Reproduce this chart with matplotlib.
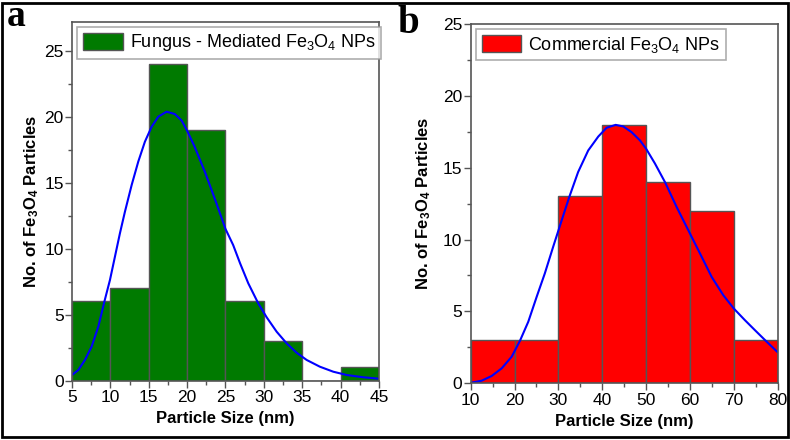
import numpy as np
import matplotlib
matplotlib.use("Agg")
import matplotlib.pyplot as plt
from matplotlib.patches import Rectangle

plt.rcParams['font.family'] = ['Liberation Sans', 'DejaVu Sans']
plt.rcParams['mathtext.fontset'] = 'custom'
plt.rcParams['mathtext.rm'] = 'Liberation Sans'
plt.rcParams['mathtext.it'] = 'Liberation Sans'
plt.rcParams['mathtext.bf'] = 'Liberation Sans:bold'

# panel a - fungus mediated
a_left = [5, 10, 15, 20, 25, 30, 35, 40]
a_counts = [6, 7, 24, 19, 6, 3, 0, 1]
a_width = 5
a_fit_x = [5, 5.83, 6.69, 7.56, 8.43, 9.21, 9.95, 10.6, 11.25, 11.9, 12.78,
           13.64, 14.5, 15.38, 16.25, 17.33, 18.4, 19.3, 20.07, 21.0, 22.33,
           23.6, 25.0, 26.0, 26.9, 27.97, 29.27, 30.37, 31.67, 32.97, 34.27,
           35.58, 37.3, 39.05, 40.8, 42.96, 45]
a_fit_y = [0.43, 0.81, 1.57, 2.58, 4.09, 5.96, 7.63, 9.4, 11.17, 12.8, 14.83,
           16.6, 18.1, 19.24, 20.0, 20.38, 20.2, 19.7, 18.86, 17.7, 15.8,
           13.8, 11.5, 10.28, 8.9, 7.38, 5.86, 4.8, 3.71, 2.83, 2.12,
           1.57, 1.06, 0.68, 0.43, 0.26, 0.15]

# panel b - commercial
b_left = [10, 20, 30, 40, 50, 60, 70]
b_counts = [3, 3, 13, 18, 14, 12, 3]
b_width = 10
b_fit_x = [10.07, 12.5, 14.8, 17.07, 19.35, 21.24, 23.13, 25.05, 26.9, 28.8,
           30.75, 32.48, 34.5, 36.8, 39.1, 41.0, 43.06, 44.8, 46.7, 48.6, 50.04,
           52.0, 54.3, 56.97, 60.0, 62.67, 64.95, 67.6, 70.0, 72.5, 74.8, 77.5,
           79.9]
b_fit_y = [0.04, 0.18, 0.51, 1.04, 1.85, 2.96, 4.28, 6.02, 7.64, 9.49,
           11.34, 12.96, 14.7, 16.2, 17.17, 17.78, 17.98, 17.87, 17.47, 16.9, 16.3,
           15.3, 14.0, 12.26, 10.42, 8.8, 7.4, 6.13, 5.2, 4.4, 3.7, 2.89,
           2.19]

ylab = r"No. of Fe$_\mathbf{3}$O$_\mathbf{4}$ Particles"
spine_col = '#555555'

fig = plt.figure(figsize=(7.9, 4.4), dpi=100)
ax1 = fig.add_axes([0.0911, 0.1348, 0.3886, 0.816])
ax2 = fig.add_axes([0.5958, 0.1289, 0.3886, 0.8166])


def style(ax, xlim, ylim, xticks, ypad):
    ax.set_xlim(*xlim)
    ax.set_ylim(*ylim)
    ax.set_xticks(xticks)
    ax.set_yticks([0, 5, 10, 15, 20, 25])
    step = xticks[1] - xticks[0]
    ax.set_xticks(np.arange(xticks[0], xticks[-1] + 0.1, step / 2), minor=True)
    ax.set_yticks(np.arange(0, 25.1, 2.5), minor=True)
    ax.tick_params(which='both', direction='out', color=spine_col, labelsize=12.5, pad=2)
    ax.tick_params(which='major', length=5, width=1)
    ax.tick_params(which='minor', length=3, width=1)
    ax.tick_params(axis='y', pad=1)
    for s in ax.spines.values():
        s.set_color(spine_col)
        s.set_linewidth(1.2)
    ax.set_xlabel("Particle Size (nm)", fontsize=12, fontweight='bold', labelpad=4)
    ax.set_ylabel(ylab, fontsize=12, fontweight='bold', labelpad=ypad)


ax1.bar(a_left, a_counts, width=a_width, align='edge', color='#007a00',
        edgecolor=spine_col, linewidth=1, label=r"Fungus - Mediated Fe$_3$O$_4$ NPs")
ax1.plot(a_fit_x, a_fit_y, color='#0000ff', lw=1.5)
style(ax1, (5, 45), (0, 27.2), [5, 10, 15, 20, 25, 30, 35, 40, 45], 2)

ax2.bar(b_left, b_counts, width=b_width, align='edge', color='#ff0000',
        edgecolor=spine_col, linewidth=1, label=r"Commercial Fe$_3$O$_4$ NPs")
ax2.plot(b_fit_x, b_fit_y, color='#0000ff', lw=1.5)
style(ax2, (10, 80), (0, 25), [10, 20, 30, 40, 50, 60, 70, 80], 7)

for ax in (ax1, ax2):
    leg = ax.legend(loc='upper left', fontsize=13, frameon=True, fancybox=False,
                    handlelength=2.2, handleheight=1.1, borderpad=0.3,
                    handletextpad=0.4, borderaxespad=0.3)
    leg.get_frame().set_edgecolor('#999999')
    leg.get_frame().set_linewidth(1.2)

fig.text(0.009, 0.94, "a", fontsize=27, fontweight='bold', family='Liberation Serif',
         va='baseline', ha='left')
fig.text(0.503, 0.925, "b", fontsize=28, fontweight='bold', family='Liberation Serif',
         va='baseline', ha='left')

fig.patches.append(Rectangle((0.003, 0.006), 0.994, 0.988, transform=fig.transFigure,
                             fill=False, edgecolor='black', linewidth=2))

fig.savefig("out.png", dpi=100)
